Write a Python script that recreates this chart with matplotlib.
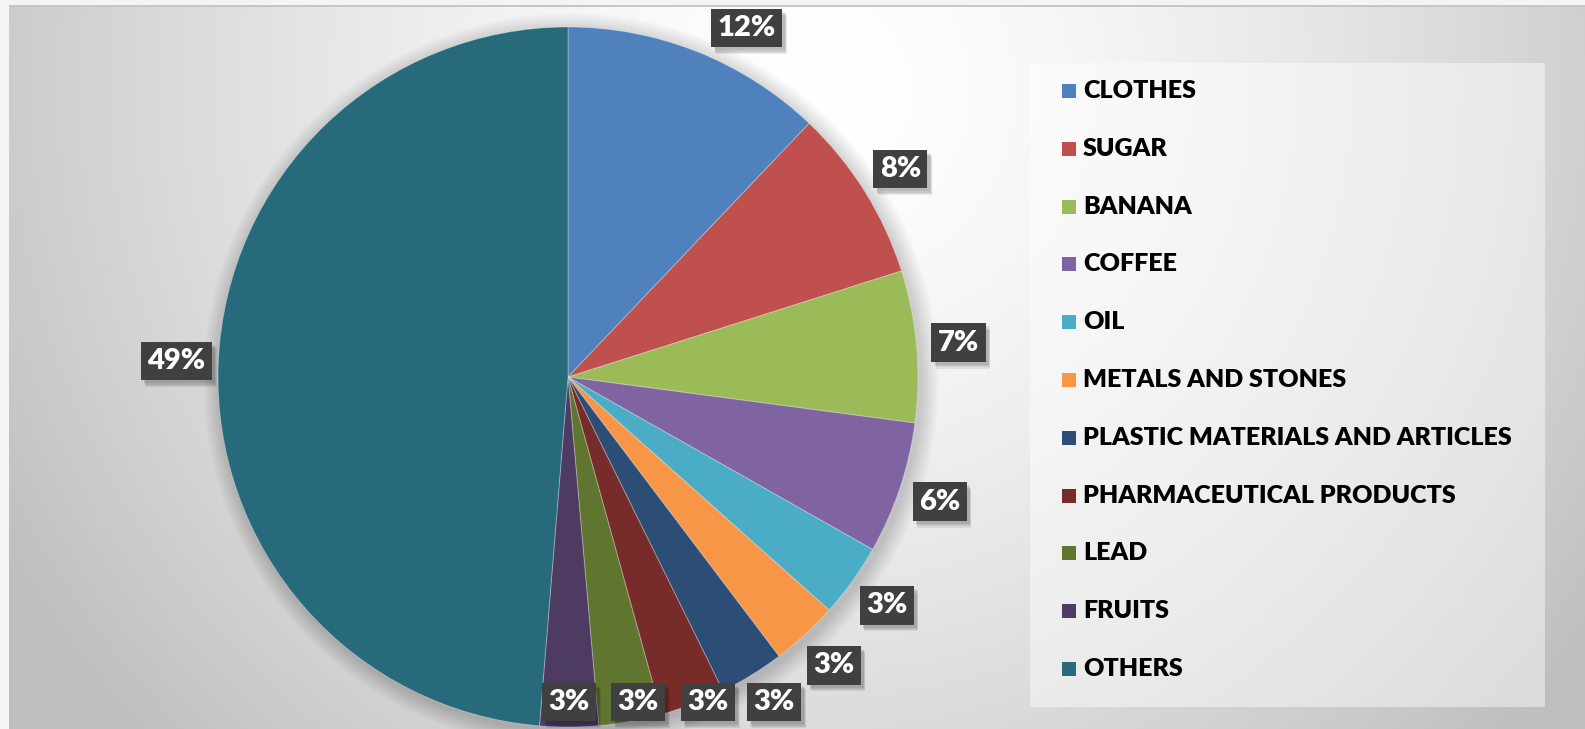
import numpy as np
import matplotlib.pyplot as plt
from matplotlib.patches import Rectangle, Circle

categories = ['CLOTHES', 'SUGAR', 'BANANA', 'COFFEE', 'OIL', 'METALS AND STONES',
              'PLASTIC MATERIALS AND ARTICLES', 'PHARMACEUTICAL PRODUCTS', 'LEAD',
              'FRUITS', 'OTHERS']
shares = [12.1, 8.0, 7.0, 6.1, 3.4, 3.1, 3.0, 3.0, 2.9, 2.7, 48.7]
colors = ['#4f81bd', '#c0504d', '#9bbb59', '#8064a2', '#4bacc6', '#f79646',
          '#2c4d75', '#772c2a', '#5f7530', '#4d3b62', '#276a7c']

W, H = 1585, 729
cx, cy, R = 568, H - 377, 350

fig = plt.figure(figsize=(W / 100, H / 100), dpi=100)
fig.patch.set_facecolor('#f4f4f4')
ax = fig.add_axes([0, 0, 1, 1])

# grey radial background, light towards top middle
yy, xx = np.mgrid[0:H, 0:W]
d = np.hypot(xx - 820, yy - 90)
v = np.clip(255 - 60 * (d / 900) ** 1.5, 190, 255) / 255
v[:, :9] = 0.957
v[:5, :] = 0.957
v[5:7, 9:] = 0.78
ax.imshow(np.dstack([v, v, v]), extent=(0, W, 0, H), origin='upper',
          aspect='auto', interpolation='bilinear', zorder=0)

# soft shadow around the pie
for i in range(14):
    ax.add_patch(Circle((cx + 3, cy - 4), R + 1 + i * 1.3, color='black',
                        alpha=0.012, lw=0, zorder=1))

wedges, _ = ax.pie(shares, colors=colors, startangle=90, counterclock=False,
                   center=(cx, cy), radius=R,
                   wedgeprops=dict(linewidth=0.7, edgecolor=(1, 1, 1, 0.3), zorder=2))

ax.set_xlim(0, W)
ax.set_ylim(0, H)
ax.set_aspect('auto')
ax.axis('off')

# data labels outside the wedges, kept inside the chart area
labels = []
for w, val in zip(wedges, shares):
    t = np.deg2rad((w.theta1 + w.theta2) / 2)
    rr = R * 1.12
    x, y = cx + rr * np.cos(t), cy + rr * np.sin(t)
    if y > H - 28:
        y = H - 28
        x = cx + np.sign(np.cos(t)) * np.sqrt(max(rr ** 2 - (y - cy) ** 2, 0))
    if y < H - 702:
        y = H - 702
    lab = ax.text(x, y, f'{round(val)}%', color='white', ha='center', va='center',
                  family=['Lato', 'DejaVu Sans'], fontweight='heavy', fontsize=21,
                  bbox=dict(boxstyle='square,pad=0.22', fc='#404040', ec='none'),
                  zorder=6)
    labels.append(lab)

# drop shadows behind the label boxes
fig.canvas.draw()
inv = ax.transData.inverted()
for lab in labels:
    ext = lab.get_bbox_patch().get_window_extent()
    (x0, y0), (x1, y1) = inv.transform([[ext.x0, ext.y0], [ext.x1, ext.y1]])
    for k in range(4):
        ax.add_patch(Rectangle((x0 + 3 + k * 0.6, y0 - 3 - k * 1.2), x1 - x0, y1 - y0,
                               facecolor='black', alpha=0.07, lw=0, zorder=5))

# legend panel
ax.add_patch(Rectangle((1030, H - 707), 515, 644, facecolor='white', alpha=0.45,
                       lw=0, zorder=3))
for i, (cat, col) in enumerate(zip(categories, colors)):
    y = H - (91 + i * 57.8)
    ax.add_patch(Rectangle((1062, y - 7), 14, 14, color=col, lw=0, zorder=4))
    ax.text(1083, y, cat, ha='left', va='center', fontsize=18, fontweight='heavy',
            family=['Lato', 'DejaVu Sans'], color='black', zorder=4)

fig.savefig('out.png', dpi=100, facecolor=fig.get_facecolor())
